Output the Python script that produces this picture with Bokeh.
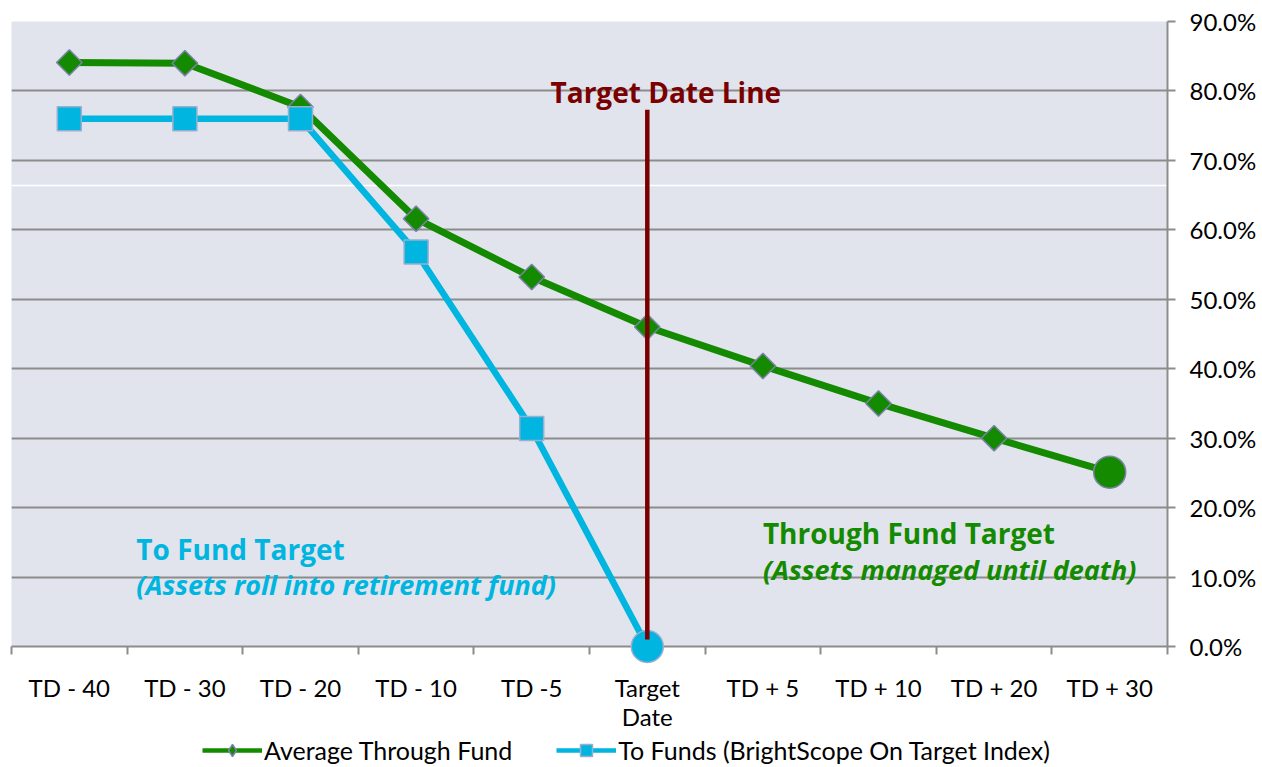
import math
from bokeh.plotting import figure
from bokeh.layouts import column
from bokeh.models import (Range1d, FixedTicker, Span, Legend, LegendItem, Label)
from bokeh.embed import file_html
from bokeh.resources import INLINE

# ---------------- data ----------------
categories = ["TD - 40", "TD - 30", "TD - 20", "TD - 10", "TD -5",
              "Target\nDate", "TD + 5", "TD + 10", "TD + 20", "TD + 30"]
through_fund = [84.1, 84.0, 77.7, 61.6, 53.2, 46.0, 40.4, 35.0, 30.0, 25.1]
to_funds = [76.0, 76.0, 76.0, 56.8, 31.4, 0.0]
y_ticks = [0, 10, 20, 30, 40, 50, 60, 70, 80, 90]
y_tick_labels = ["0.0%", "10.0%", "20.0%", "30.0%", "40.0%", "50.0%",
                 "60.0%", "70.0%", "80.0%", "90.0%"]
series_names = ["Average Through Fund", "To Funds (BrightScope On Target Index)"]

FONT = "Lato"
AFONT = "Open Sans"
GREEN = "#148a00"
CYAN = "#00b5e0"
OUTLINE = "#7c82aa"
COUTLINE = "#9aaed0"
DARKRED = "#7a0000"
GRID = "#8c8c8c"

xs = list(range(len(categories)))
xg = xs[:len(through_fund)]
xb = xs[:len(to_funds)]

p = figure(frame_width=1156, frame_height=625,
           x_range=Range1d(-0.5, len(categories) - 0.5),
           y_range=Range1d(y_ticks[0], y_ticks[-1]),
           y_axis_location="right",
           output_backend="svg", toolbar_location=None,
           min_border_left=11, min_border_top=21, min_border_right=0, min_border_bottom=0,
           background_fill_color="#e1e4ec", border_fill_color="white",
           outline_line_color=None)

# axes
xa = p.xaxis[0]
xa.ticker = FixedTicker(ticks=xs, minor_ticks=[i - 0.5 for i in range(len(categories) + 1)])
xa.major_label_overrides = {i: c for i, c in enumerate(categories)}
xa.major_tick_line_color = None
xa.major_tick_out = 0
xa.major_tick_in = 0
xa.minor_tick_line_color = GRID
xa.minor_tick_line_width = 2
xa.minor_tick_out = 8
xa.minor_tick_in = 0
xa.axis_line_color = GRID
xa.axis_line_width = 2
xa.major_label_text_font = FONT
xa.major_label_text_font_size = "24px"
xa.major_label_text_color = "black"
xa.major_label_text_line_height = 1.0
xa.major_label_standoff = 18
xa.axis_label_standoff = 0

ya = p.yaxis[0]
ya.ticker = FixedTicker(ticks=y_ticks, minor_ticks=[])
ya.major_label_overrides = {t: l for t, l in zip(y_ticks, y_tick_labels)}
ya.major_tick_line_color = GRID
ya.major_tick_line_width = 2
ya.major_tick_out = 8
ya.major_tick_in = 0
ya.minor_tick_line_color = None
ya.axis_line_color = GRID
ya.axis_line_width = 2
ya.major_label_text_font = FONT
ya.major_label_text_font_size = "24px"
ya.major_label_text_color = "black"
ya.major_label_standoff = 14

p.xgrid.grid_line_color = None
p.ygrid.grid_line_color = GRID
p.ygrid.grid_line_width = 2
p.ygrid.ticker = FixedTicker(ticks=y_ticks)

# thin white line across the plot (present in the original image)
p.add_layout(Span(location=66.4, dimension="width", line_color="white",
                  line_width=1.5, level="underlay"))

def draw_series(fig, legend_proxy=False):
    gl = fig.line(xg, through_fund, line_color=GREEN, line_width=7)
    if legend_proxy:
        gm = fig.scatter(xg[:-1], through_fund[:-1], marker="diamond", size=18,
                         fill_color=GREEN, line_color=OUTLINE, line_width=1.5)
    else:
        gm = fig.scatter(xg[:-1], through_fund[:-1], marker="square", angle=math.pi / 4,
                         size=18, fill_color=GREEN, line_color=OUTLINE, line_width=1.5)
    fig.scatter(xg[-1:], through_fund[-1:], marker="circle", size=32,
                fill_color=GREEN, line_color=OUTLINE, line_width=1.5)
    bl = fig.line(xb, to_funds, line_color=CYAN, line_width=6.5)
    bm = fig.scatter(xb[:-1], to_funds[:-1], marker="square", size=24,
                     fill_color=CYAN, line_color=COUTLINE, line_width=1.5)
    fig.scatter(xb[-1:], to_funds[-1:], marker="circle", size=32,
                fill_color=CYAN, line_color=COUTLINE, line_width=1.5, level="overlay")
    return gl, gm, bl, bm

draw_series(p)

# target date line
td = categories.index("Target\nDate")
p.segment(x0=[td], y0=[1.0], x1=[td], y1=[77.3], line_color=DARKRED,
          line_width=4.5, level="overlay")

# annotations
p.add_layout(Label(x=td + 0.16, y=79.9, text="Target Date Line", text_font=AFONT,
                   text_font_size="28px", text_font_style="bold", text_color=DARKRED,
                   text_align="center", text_baseline="middle"))
p.add_layout(Label(x=0.58, y=14.1, text="To Fund Target", text_font=AFONT,
                   text_font_size="28px", text_font_style="bold", text_color=CYAN,
                   text_align="left", text_baseline="middle"))
p.add_layout(Label(x=0.58, y=8.9, text="(Assets roll into retirement fund)", text_font=AFONT,
                   text_font_size="27px", text_font_style="bold italic", text_color=CYAN,
                   text_align="left", text_baseline="middle"))
p.add_layout(Label(x=6.0, y=16.3, text="Through Fund Target", text_font=AFONT,
                   text_font_size="28px", text_font_style="bold", text_color=GREEN,
                   text_align="left", text_baseline="middle"))
p.add_layout(Label(x=6.0, y=11.1, text="(Assets managed until death)", text_font=AFONT,
                   text_font_size="27px", text_font_style="bold italic", text_color=GREEN,
                   text_align="left", text_baseline="middle"))

# legend strip (same series, drawn off-screen; only the legend shows)
q = figure(width=1246, height=37, x_range=Range1d(-100, -99), y_range=Range1d(-100, -99),
           output_backend="svg", toolbar_location=None,
           min_border_left=0, min_border_right=0, min_border_top=0, min_border_bottom=0,
           background_fill_color="white", border_fill_color="white",
           outline_line_color=None)
q.axis.visible = False
q.grid.visible = False
lgl, lgm, lbl, lbm = draw_series(q, legend_proxy=True)
lgl.glyph.line_width = 4.5
lbl.glyph.line_width = 4.5

legend = Legend(items=[LegendItem(label=series_names[0], renderers=[lgl, lgm]),
                       LegendItem(label=series_names[1], renderers=[lbl, lbm])],
                orientation="horizontal", location=(191, 5),
                label_text_font=FONT, label_text_font_size="25px",
                label_text_color="black", label_text_line_height=1.0,
                glyph_width=60, glyph_height=30, spacing=44, label_standoff=2,
                border_line_color=None, background_fill_alpha=0,
                padding=0, margin=0)
q.add_layout(legend, "center")

layout = column(p, q, spacing=0)
open("out.html", "w").write(file_html(layout, INLINE))
